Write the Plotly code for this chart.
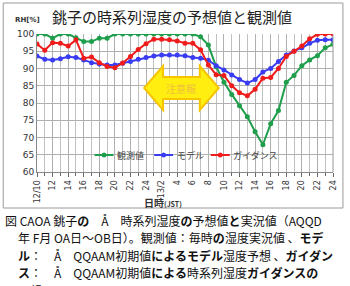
import plotly.graph_objects as go

# time stamps: 12th 10h .. 13th 24h (hourly)
times = ([f"12/{h}" for h in range(10, 25)] + [f"13/{h}" for h in range(1, 25)])
tick_idx = list(range(0, 39, 2))
tick_text = ["12/10", "12", "14", "16", "18", "20", "22", "24",
             "13/2", "4", "6", "8", "10", "12", "14", "16", "18", "20", "22", "24"]

observed = [100, 100, 98.8, 100, 100, 98.9, 97.8, 97.8, 98.8, 98.8,
            100, 100, 100, 100, 100, 100, 100, 100, 100, 100,
            100, 99.2, 96.8, 90.5, 86.0, 82.5, 79.2, 76.0, 71.7, 67.9,
            74.0, 77.8, 86.0, 88.0, 90.8, 92.5, 93.7, 96.0, 97.0]
model = [93.6, 92.7, 92.5, 92.8, 93.4, 93.2, 92.5, 91.7, 91.3, 91.0,
         91.0, 91.5, 92.0, 92.7, 93.2, 93.6, 93.9, 93.9, 93.9, 93.7,
         93.2, 93.0, 92.4, 90.8, 89.6, 88.1, 86.8, 85.8, 86.8, 89.0,
         90.0, 92.0, 93.9, 95.1, 96.0, 97.3, 98.2, 98.3, 98.3]
guidance = [97.1, 95.3, 97.5, 97.3, 96.5, 98.3, 93.0, 93.3, 91.7, 90.6,
            90.2, 91.6, 93.5, 95.5, 97.2, 98.5, 98.5, 98.3, 98.0, 97.3,
            97.3, 95.4, 91.0, 88.2, 88.0, 85.0, 83.0, 82.1, 84.0, 87.2,
            87.4, 90.0, 93.5, 95.0, 96.5, 98.6, 99.9, 100, 100]

names = ["観測値", "モデル", "ガイダンス"]
colors = ["#1f9e4c", "#3a3cf2", "#f01c1c"]

x = list(range(len(times)))
FONT = "Noto Sans CJK JP"

# plot area in pixels
L, R, T, B = 37, 335, 34, 172
W, H = 350, 286
def px(xp, yp):
    return (xp - L) / (R - L), (B - yp) / (B - T)

fig = go.Figure()
for name, vals, col in zip(names, [observed, model, guidance], colors):
    fig.add_trace(go.Scatter(x=x, y=vals, name=name, mode="lines+markers",
                             line=dict(color=col, width=2),
                             marker=dict(color=col, size=5), showlegend=False))

# double arrow (注意報)
path = ("M 0.362 0.609 L 0.426 0.768 L 0.426 0.688 L 0.550 0.688 L 0.550 0.768 "
        "L 0.614 0.609 L 0.550 0.449 L 0.550 0.529 L 0.426 0.529 L 0.426 0.449 Z")
fig.add_shape(type="path", xref="paper", yref="paper", path=path,
              fillcolor="#ffee10", line=dict(color="#f7c400", width=2), layer="above")

anns = []
def ann(text, xp, yp, size, color="#222", family=FONT, xanchor="center"):
    xx, yy = px(xp, yp)
    anns.append(dict(text=text, x=xx, y=yy, xref="paper", yref="paper", showarrow=False,
                     xanchor=xanchor, yanchor="middle",
                     font=dict(size=size, color=color, family=family)))

ann("注意報", 182, 88, 10, color="#f0c040")
ann("銚子の時系列湿度の予想値と観測値", 173, 16, 15, color="#222")
ann("<b>RH[%]</b>", 27, 20, 7, color="#333", family="DejaVu Sans")
ann("<b>日時</b><span style='font-size:7px'><b>(JST)</b></span>", 164, 202, 10, color="#333")

# legend drawn inside plot (line + marker + label)
leg_pos = [(95, 116), (155, 176), (212, 232)]
ly = 155
for name, col, (lx, tx) in zip(names, colors, leg_pos):
    x0, y0 = px(lx, ly)
    x1, _ = px(lx + 19, ly)
    fig.add_shape(type="line", xref="paper", yref="paper", x0=x0, x1=x1, y0=y0, y1=y0,
                  line=dict(color=col, width=2))
    cx0, cy0 = px(lx + 7, ly + 2.5)
    cx1, cy1 = px(lx + 12, ly - 2.5)
    fig.add_shape(type="circle", xref="paper", yref="paper", x0=cx0, x1=cx1, y0=cy0, y1=cy1,
                  fillcolor=col, line=dict(color=col, width=0))
    ann(name, tx, ly, 9, color="#444", xanchor="left")

caption = [
    "図 CAOA 銚子<b>の</b>　Å　時系列湿度<b>の</b>予想値<b>と</b>実況値（AQQD",
    "年 F月 OA日～OB日）。観測値：毎時<b>の</b>湿度実況値 、<b>モデ</b>",
    "<b>ル</b>：　Å　QQAAM初期値<b>によるモデル</b>湿度予想 、<b>ガイダン</b>",
    "<b>ス</b>：　Å　QQAAM初期値<b>による</b>時系列湿度<b>ガイダンスの</b>",
    "予想",
]
cap_pos = [(3, 220), (16, 237.5), (16, 255), (16, 272.5), (16, 290)]
for line, (cx, cy) in zip(caption, cap_pos):
    ann(line, cx, cy, 12, color="#111", xanchor="left")

# outer frame of the chart
fx0, fy0 = px(3, 3)
fx1, fy1 = px(345, 208)
fig.add_shape(type="rect", xref="paper", yref="paper", x0=fx0, y0=fy1, x1=fx1, y1=fy0,
              line=dict(color="#9a9a9a", width=1), layer="below")

fig.update_layout(
    width=W, height=H,
    margin=dict(l=L, r=W - R, t=T, b=H - B),
    paper_bgcolor="white", plot_bgcolor="white",
    showlegend=False,
    annotations=anns,
    font=dict(family=FONT),
)
fig.update_xaxes(range=[0, 38], tickmode="array", tickvals=tick_idx, ticktext=tick_text,
                 tickangle=-90, tickfont=dict(size=8, color="#333", family="DejaVu Sans"),
                 showgrid=True, gridcolor="#b0b0b0", gridwidth=1,
                 minor=dict(tick0=0, dtick=1, showgrid=True, gridcolor="#c0c0c0",
                            ticks="outside", ticklen=3, tickcolor="#666"),
                 ticks="outside", ticklen=4, tickcolor="#666",
                 showline=True, linecolor="#888", mirror=False, zeroline=False)
fig.update_yaxes(range=[60, 100], dtick=5, tickfont=dict(size=9, color="#333", family="DejaVu Sans"),
                 showgrid=True, gridcolor="#b0b0b0", gridwidth=1,
                 ticks="", showline=True, linecolor="#888", zeroline=False)
fig.add_shape(type="line", xref="paper", yref="paper", x0=1, x1=1, y0=0, y1=1,
              line=dict(color="#999", width=1))

fig.write_html("out.html")
